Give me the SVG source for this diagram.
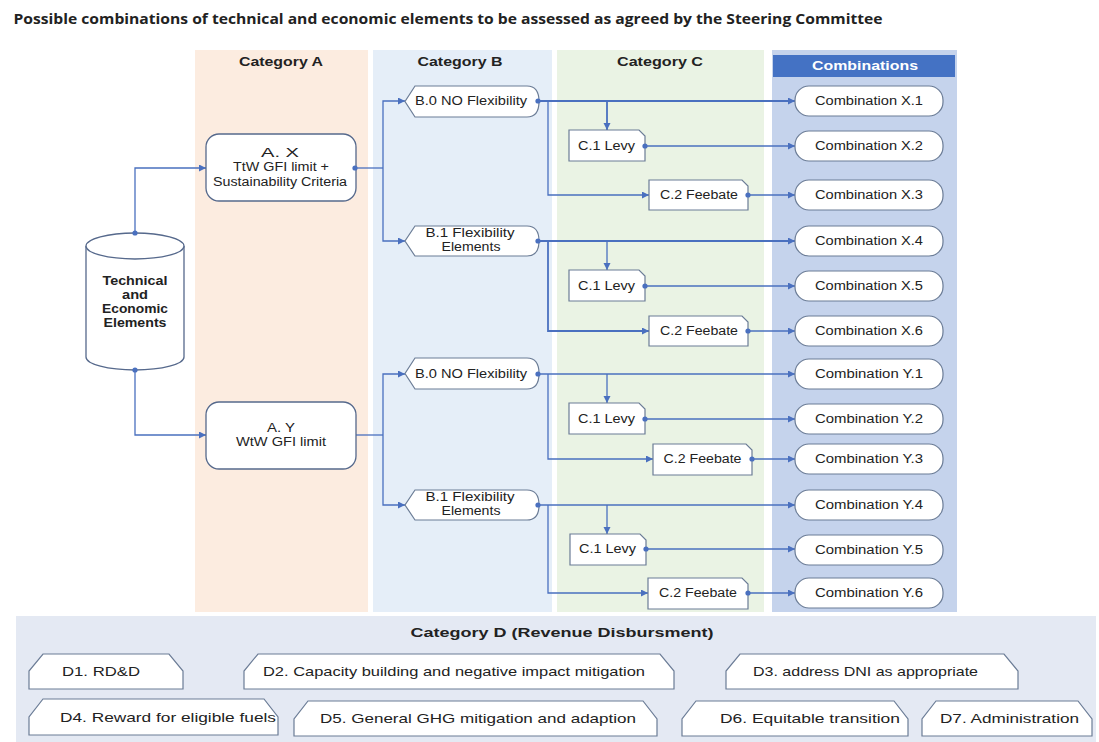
<svg xmlns="http://www.w3.org/2000/svg" width="1099" height="742" viewBox="0 0 1099 742">
<defs>
<marker id="ar" markerUnits="userSpaceOnUse" markerWidth="8" markerHeight="8" refX="7" refY="3.5" orient="auto">
<path d="M0,0 L7,3.5 L0,7 Z" fill="#4a70bf"/>
</marker>
</defs>
<style>
text{font-family:"Liberation Sans",Arial,sans-serif;fill:#222;}
.t{font-size:12.5px;text-anchor:middle;}
.b{font-weight:bold;}
.d{font-size:13px;}
.n{fill:#fff;stroke:#6b7c96;stroke-width:1.2;}
.a{fill:#fff;stroke:#56698c;stroke-width:1.3;}
.c{fill:none;stroke:#4a70bf;stroke-width:1.3;}
.c2{fill:none;stroke:#4a70bf;stroke-width:1.8;}
.m{marker-end:url(#ar);}
.dot{fill:#4a70bf;}
</style>
<rect width="1099" height="742" fill="#fff"/>
<text x="13.5" y="24" style="font-family:'Open Sans',sans-serif;font-weight:bold;font-size:14px" textLength="869" lengthAdjust="spacingAndGlyphs">Possible combinations of technical and economic elements to be assessed as agreed by the Steering Committee</text>

<g id="columns">
<rect x="195" y="50" width="173" height="562" fill="#fcece0"/>
<rect x="373" y="50" width="179" height="562" fill="#e5eef8"/>
<rect x="557" y="50" width="207" height="562" fill="#eaf3e4"/>
<rect x="772" y="50" width="185" height="562" fill="#c5d3ec"/>
<rect x="773" y="55" width="182" height="22" fill="#4472c4"/>
<text class="t b" x="281" y="66" textLength="84" lengthAdjust="spacingAndGlyphs">Category A</text>
<text class="t b" x="460" y="66" textLength="85" lengthAdjust="spacingAndGlyphs">Category B</text>
<text class="t b" x="660" y="66" textLength="86" lengthAdjust="spacingAndGlyphs">Category C</text>
<text class="t b" x="865" y="70" textLength="106" lengthAdjust="spacingAndGlyphs" style="fill:#fff">Combinations</text>
</g>

<g id="connectors">
<path class="c m" d="M135,233 V168 H206"/>
<path class="c m" d="M135,370 V435 H206"/>
<path class="c" d="M355,168 H383"/>
<path class="c m" d="M383,168 V101 H405"/>
<path class="c m" d="M383,168 V241 H405"/>
<path class="c" d="M356,435 H383"/>
<path class="c m" d="M383,435 V374 H405"/>
<path class="c m" d="M383,435 V505 H405"/>

<path class="c2 m" d="M538,101 H795"/>
<path class="c2 m" d="M607,101 V130"/>
<path class="c m" d="M548,101 V195 H649"/>
<path class="c m" d="M645,146 H795"/>
<path class="c m" d="M748,195 H795"/>

<path class="c2 m" d="M538,241 H795"/>
<path class="c m" d="M607,241 V270"/>
<path class="c2 m" d="M548,241 V331 H649"/>
<path class="c m" d="M645,286 H795"/>
<path class="c m" d="M748,331 H795"/>

<path class="c m" d="M538,374 H795"/>
<path class="c m" d="M607,374 V403"/>
<path class="c m" d="M548,374 V459 H653"/>
<path class="c m" d="M645,419 H795"/>
<path class="c m" d="M752,459 H795"/>

<path class="c m" d="M538,505 H795"/>
<path class="c m" d="M607,505 V534"/>
<path class="c m" d="M548,505 V593 H648"/>
<path class="c m" d="M646,549 H795"/>
<path class="c m" d="M748,593 H795"/>
</g>

<g id="tech">
<path class="a" d="M86,246 V357 A49,13 0 0 0 184,357 V246"/>
<ellipse class="a" cx="135" cy="246" rx="49" ry="13"/>
<text class="t b" x="135" y="285" textLength="65" lengthAdjust="spacingAndGlyphs">Technical</text>
<text class="t b" x="135" y="299" textLength="26" lengthAdjust="spacingAndGlyphs">and</text>
<text class="t b" x="135" y="313" textLength="66" lengthAdjust="spacingAndGlyphs">Economic</text>
<text class="t b" x="135" y="327" textLength="63" lengthAdjust="spacingAndGlyphs">Elements</text>
</g>

<g id="AX">
<rect class="a" x="206" y="134" width="150" height="67" rx="13"/>
<text class="t" x="280" y="157" textLength="38" lengthAdjust="spacingAndGlyphs">A. X</text>
<text class="t" x="281" y="171" textLength="96" lengthAdjust="spacingAndGlyphs">TtW GFI limit +</text>
<text class="t" x="280" y="186" textLength="134" lengthAdjust="spacingAndGlyphs">Sustainability Criteria</text>
</g>
<g id="AY">
<rect class="a" x="206" y="402" width="150" height="67" rx="13"/>
<text class="t" x="281" y="432" textLength="28" lengthAdjust="spacingAndGlyphs">A. Y</text>
<text class="t" x="281" y="446" textLength="90" lengthAdjust="spacingAndGlyphs">WtW GFI limit</text>
</g>

<g id="B0X">
<path class="n" d="M415,86 H527 Q539,86 539,101.5 Q539,117 527,117 H415 L405,101.5 Z"/>
<text class="t" x="471" y="105" textLength="112" lengthAdjust="spacingAndGlyphs">B.0 NO Flexibility</text>
</g>
<g id="B1X">
<path class="n" d="M415,226 H527 Q539,226 539,241 Q539,256 527,256 H415 L405,241 Z"/>
<text class="t" x="470" y="237" textLength="89" lengthAdjust="spacingAndGlyphs">B.1 Flexibility</text>
<text class="t" x="471" y="251" textLength="59" lengthAdjust="spacingAndGlyphs">Elements</text>
</g>
<g id="B0Y">
<path class="n" d="M415,358 H527 Q539,358 539,373.5 Q539,389 527,389 H415 L405,373.5 Z"/>
<text class="t" x="471" y="378" textLength="112" lengthAdjust="spacingAndGlyphs">B.0 NO Flexibility</text>
</g>
<g id="B1Y">
<path class="n" d="M415,490 H527 Q539,490 539,505 Q539,520 527,520 H415 L405,505 Z"/>
<text class="t" x="470" y="501" textLength="89" lengthAdjust="spacingAndGlyphs">B.1 Flexibility</text>
<text class="t" x="471" y="515" textLength="59" lengthAdjust="spacingAndGlyphs">Elements</text>
</g>

<g id="C1X2">
<path class="n" d="M569,130 H639 L645,136 V161 H569 Z"/>
<text class="t" x="606.5" y="150" textLength="57" lengthAdjust="spacingAndGlyphs">C.1 Levy</text>
</g>
<g id="C2X3">
<path class="n" d="M649,180 H742 L748,186 V210 H649 Z"/>
<text class="t" x="699" y="199" textLength="78" lengthAdjust="spacingAndGlyphs">C.2 Feebate</text>
</g>
<g id="C1X5">
<path class="n" d="M569,270 H639 L645,276 V301 H569 Z"/>
<text class="t" x="606.5" y="290" textLength="57" lengthAdjust="spacingAndGlyphs">C.1 Levy</text>
</g>
<g id="C2X6">
<path class="n" d="M649,316 H742 L748,322 V346 H649 Z"/>
<text class="t" x="699" y="335" textLength="78" lengthAdjust="spacingAndGlyphs">C.2 Feebate</text>
</g>
<g id="C1Y2">
<path class="n" d="M569,403 H639 L645,409 V434 H569 Z"/>
<text class="t" x="606.5" y="423" textLength="57" lengthAdjust="spacingAndGlyphs">C.1 Levy</text>
</g>
<g id="C2Y3">
<path class="n" d="M653,444 H746 L752,450 V475 H653 Z"/>
<text class="t" x="702.5" y="463" textLength="78" lengthAdjust="spacingAndGlyphs">C.2 Feebate</text>
</g>
<g id="C1Y5">
<path class="n" d="M570,534 H640 L646,540 V565 H570 Z"/>
<text class="t" x="607.5" y="553" textLength="57" lengthAdjust="spacingAndGlyphs">C.1 Levy</text>
</g>
<g id="C2Y6">
<path class="n" d="M648,578 H742 L748,584 V609 H648 Z"/>
<text class="t" x="698" y="597" textLength="78" lengthAdjust="spacingAndGlyphs">C.2 Feebate</text>
</g>

<g id="dots">
<circle class="dot" cx="135" cy="233" r="2.6"/>
<circle class="dot" cx="135" cy="370" r="2.6"/>
<circle class="dot" cx="355" cy="168" r="2.6"/>
<circle class="dot" cx="538" cy="101" r="2.6"/>
<circle class="dot" cx="645" cy="146" r="2.6"/>
<circle class="dot" cx="748" cy="195" r="2.6"/>
<circle class="dot" cx="538" cy="241" r="2.6"/>
<circle class="dot" cx="645" cy="286" r="2.6"/>
<circle class="dot" cx="748" cy="331" r="2.6"/>
<circle class="dot" cx="538" cy="374" r="2.6"/>
<circle class="dot" cx="645" cy="419" r="2.6"/>
<circle class="dot" cx="752" cy="459" r="2.6"/>
<circle class="dot" cx="538" cy="505" r="2.6"/>
<circle class="dot" cx="646" cy="549" r="2.6"/>
<circle class="dot" cx="748" cy="593" r="2.6"/>
</g>

<g id="CX1"><rect class="n" x="795" y="86" width="148" height="30" rx="14"/><text class="t" x="869" y="105" textLength="108" lengthAdjust="spacingAndGlyphs">Combination X.1</text></g>
<g id="CX2"><rect class="n" x="795" y="131" width="148" height="30" rx="14"/><text class="t" x="869" y="150" textLength="108" lengthAdjust="spacingAndGlyphs">Combination X.2</text></g>
<g id="CX3"><rect class="n" x="795" y="180" width="148" height="30" rx="14"/><text class="t" x="869" y="199" textLength="108" lengthAdjust="spacingAndGlyphs">Combination X.3</text></g>
<g id="CX4"><rect class="n" x="795" y="226" width="148" height="30" rx="14"/><text class="t" x="869" y="245" textLength="108" lengthAdjust="spacingAndGlyphs">Combination X.4</text></g>
<g id="CX5"><rect class="n" x="795" y="271" width="148" height="30" rx="14"/><text class="t" x="869" y="290" textLength="108" lengthAdjust="spacingAndGlyphs">Combination X.5</text></g>
<g id="CX6"><rect class="n" x="795" y="316" width="148" height="30" rx="14"/><text class="t" x="869" y="335" textLength="108" lengthAdjust="spacingAndGlyphs">Combination X.6</text></g>
<g id="CY1"><rect class="n" x="795" y="359" width="148" height="30" rx="14"/><text class="t" x="869" y="378" textLength="108" lengthAdjust="spacingAndGlyphs">Combination Y.1</text></g>
<g id="CY2"><rect class="n" x="795" y="404" width="148" height="30" rx="14"/><text class="t" x="869" y="423" textLength="108" lengthAdjust="spacingAndGlyphs">Combination Y.2</text></g>
<g id="CY3"><rect class="n" x="795" y="444" width="148" height="30" rx="14"/><text class="t" x="869" y="463" textLength="108" lengthAdjust="spacingAndGlyphs">Combination Y.3</text></g>
<g id="CY4"><rect class="n" x="795" y="490" width="148" height="30" rx="14"/><text class="t" x="869" y="509" textLength="108" lengthAdjust="spacingAndGlyphs">Combination Y.4</text></g>
<g id="CY5"><rect class="n" x="795" y="535" width="148" height="30" rx="14"/><text class="t" x="869" y="554" textLength="108" lengthAdjust="spacingAndGlyphs">Combination Y.5</text></g>
<g id="CY6"><rect class="n" x="795" y="578" width="148" height="30" rx="14"/><text class="t" x="869" y="597" textLength="108" lengthAdjust="spacingAndGlyphs">Combination Y.6</text></g>

<g id="catD">
<rect x="16" y="616" width="1080" height="126" fill="#e4e9f3"/>
<text class="b" x="562" y="637" style="font-size:13px;text-anchor:middle" textLength="303" lengthAdjust="spacingAndGlyphs">Category D (Revenue Disbursment)</text>
</g>
<g id="D1"><path class="n" d="M29,689 V671 L43,654 H169 L183,671 V689 Z"/><text class="d" x="62" y="676" textLength="78" lengthAdjust="spacingAndGlyphs">D1. RD&amp;D</text></g>
<g id="D2"><path class="n" d="M244,689 V671 L258,654 H660 L674,671 V689 Z"/><text class="d" x="263" y="676" textLength="382" lengthAdjust="spacingAndGlyphs">D2. Capacity building and negative impact mitigation</text></g>
<g id="D3"><path class="n" d="M726,689 V671 L740,654 H1004 L1018,671 V689 Z"/><text class="d" x="753" y="676" textLength="225" lengthAdjust="spacingAndGlyphs">D3. address DNI as appropriate</text></g>
<g id="D4"><path class="n" d="M29,735 V717 L43,699 H264 L278,717 V735 Z"/><text class="d" x="60" y="722" textLength="216" lengthAdjust="spacingAndGlyphs">D4. Reward for eligible fuels</text></g>
<g id="D5"><path class="n" d="M294,736 V719 L308,701 H643 L657,719 V736 Z"/><text class="d" x="320" y="723" textLength="316" lengthAdjust="spacingAndGlyphs">D5. General GHG mitigation and adaption</text></g>
<g id="D6"><path class="n" d="M682,736 V719 L696,701 H894 L908,719 V736 Z"/><text class="d" x="720" y="723" textLength="180" lengthAdjust="spacingAndGlyphs">D6. Equitable transition</text></g>
<g id="D7"><path class="n" d="M922,736 V719 L936,701 H1078 L1092,719 V736 Z"/><text class="d" x="940" y="723" textLength="139" lengthAdjust="spacingAndGlyphs">D7. Administration</text></g>
</svg>
